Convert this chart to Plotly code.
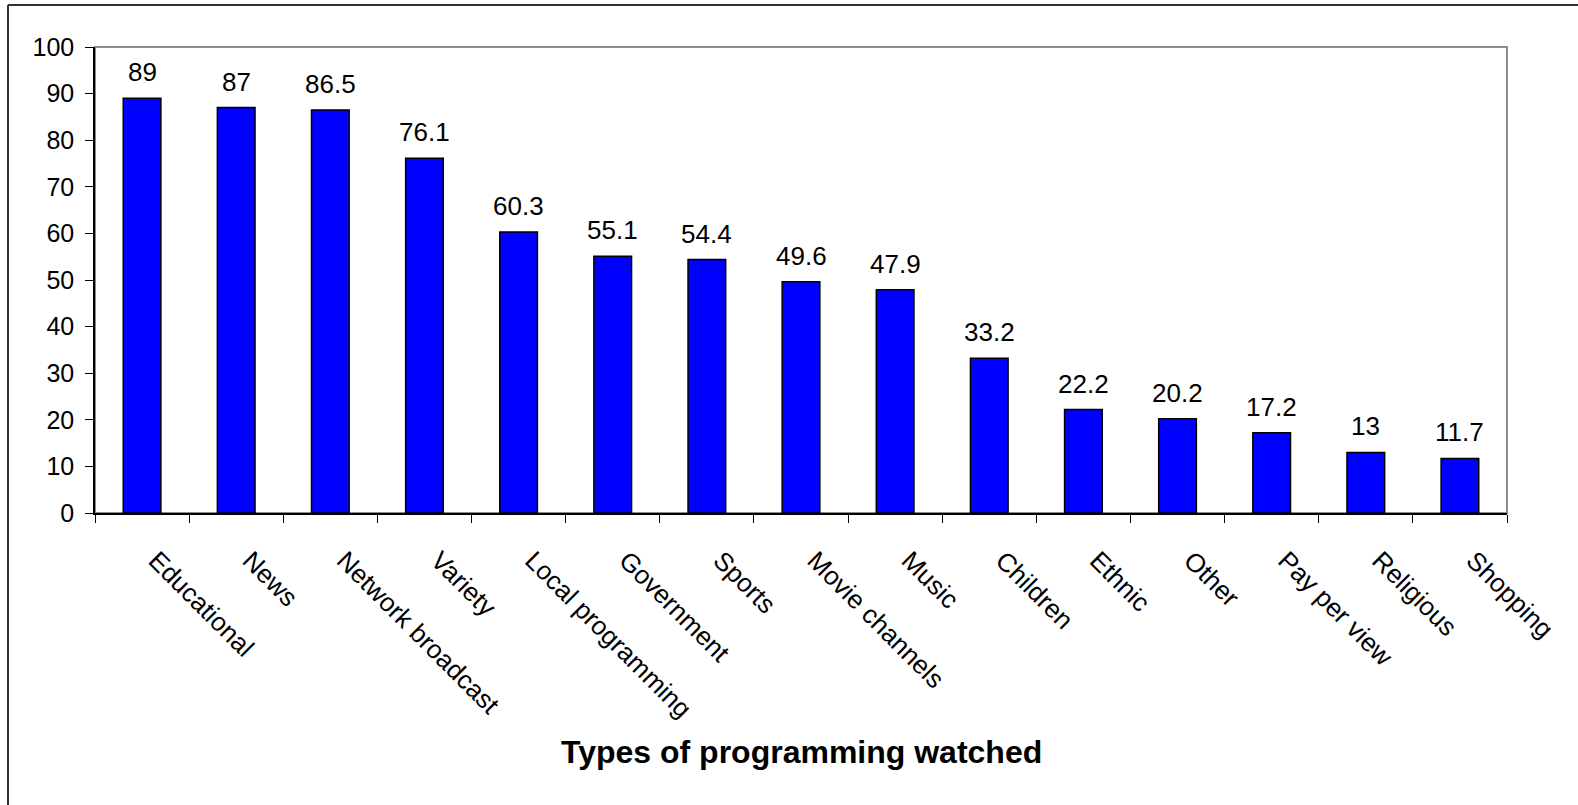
import plotly.graph_objects as go

categories = ["Educational", "News", "Network broadcast", "Variety", "Local programming",
              "Government", "Sports", "Movie channels", "Music", "Children", "Ethnic",
              "Other", "Pay per view", "Religious", "Shopping"]
values = [89, 87, 86.5, 76.1, 60.3, 55.1, 54.4, 49.6, 47.9, 33.2, 22.2, 20.2, 17.2, 13, 11.7]
value_labels = ["89", "87", "86.5", "76.1", "60.3", "55.1", "54.4", "49.6", "47.9",
                "33.2", "22.2", "20.2", "17.2", "13", "11.7"]
y_ticks = list(range(0, 101, 10))

W, H = 1578, 805
left, right, top, bottom = 95, 71, 47, 292
pw = W - left - right
ph = H - top - bottom


def px_x(p):
    return (p - left) / pw


def px_y(p):
    return (H - bottom - p) / ph


fig = go.Figure()

fig.add_trace(go.Bar(
    x=categories,
    y=values,
    width=0.4,
    marker=dict(color="#0000FF", line=dict(color="black", width=1.5)),
    hoverinfo="x+y",
))

for cat, val, lab in zip(categories, values, value_labels):
    fig.add_annotation(
        x=cat, y=val, text=lab, showarrow=False,
        yanchor="bottom", yshift=9,
        font=dict(family="Liberation Sans, Arial", size=26, color="black"),
    )

fig.add_annotation(
    x=0.5, y=px_y(752), xref="paper", yref="paper",
    text="<b>Types of programming watched</b>", showarrow=False,
    yanchor="middle",
    font=dict(family="Liberation Sans, Arial", size=32, color="black"),
)

# plot-area frame (gray) and outer chart frame (top + left only)
fig.add_shape(type="rect", xref="paper", yref="paper", x0=0, y0=0, x1=1, y1=1,
              line=dict(color="#8c8c8c", width=2), layer="below")
fig.add_shape(type="line", xref="paper", yref="paper",
              x0=px_x(8), y0=px_y(5), x1=px_x(W), y1=px_y(5),
              line=dict(color="#333333", width=2))
fig.add_shape(type="line", xref="paper", yref="paper",
              x0=px_x(8), y0=px_y(5), x1=px_x(8), y1=px_y(H),
              line=dict(color="#333333", width=2))

fig.update_layout(
    width=W, height=H,
    margin=dict(l=left, r=right, t=top, b=bottom, autoexpand=False),
    plot_bgcolor="white",
    paper_bgcolor="white",
    showlegend=False,
    font=dict(family="Liberation Sans, Arial", size=26, color="black"),
)

fig.update_xaxes(
    type="category",
    automargin=False,
    range=[-0.5, len(categories) - 0.5],
    tickson="boundaries",
    ticks="outside", ticklen=8, tickwidth=1, tickcolor="black",
    showline=True, linecolor="black", linewidth=1.5,
    showgrid=False,
    tickangle=45,
    ticklabelstandoff=20,
    ticklabelshift=14,
    tickfont=dict(size=26),
)

fig.update_yaxes(
    automargin=False,
    range=[0, 100],
    tickvals=y_ticks,
    ticks="outside", ticklen=8, tickwidth=1, tickcolor="black",
    showline=True, linecolor="black", linewidth=1.5,
    showgrid=False, zeroline=False,
    ticklabelstandoff=6,
    tickfont=dict(size=25),
)

fig.write_html("out.html", config={"displayModeBar": False},
               post_script="document.body.style.margin='0';")
